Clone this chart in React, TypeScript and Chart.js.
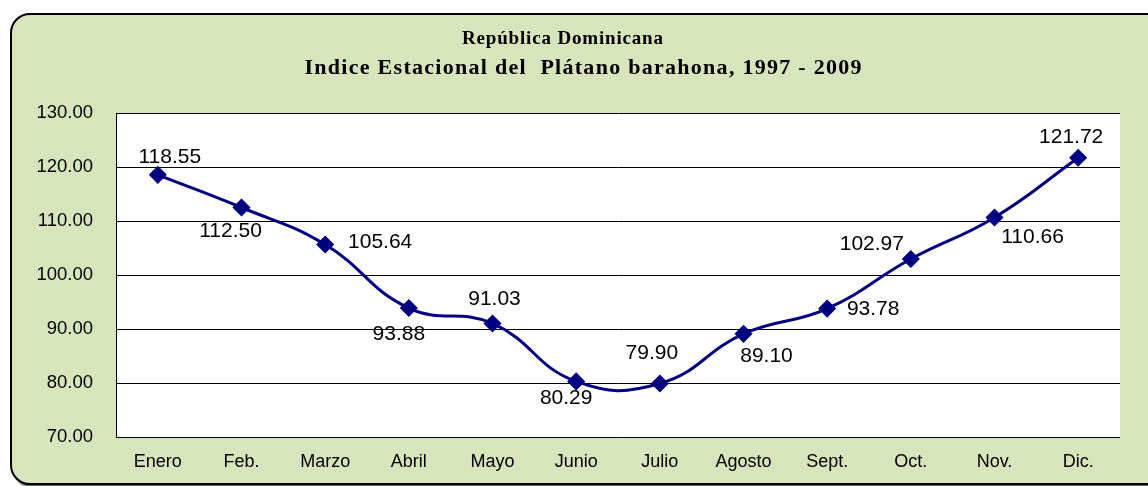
import React, { useEffect, useRef } from "react";
import { Chart, registerables } from "chart.js";

Chart.register(...registerables);

const categories = ["Enero", "Feb.", "Marzo", "Abril", "Mayo", "Junio", "Julio", "Agosto", "Sept.", "Oct.", "Nov.", "Dic."];
const values = [118.55, 112.5, 105.64, 93.88, 91.03, 80.29, 79.9, 89.1, 93.78, 102.97, 110.66, 121.72];
const yTicks = [70, 80, 90, 100, 110, 120, 130];
const titleLines = ["República Dominicana", "Indice Estacional del  Plátano barahona, 1997 - 2009"];

// label placement offsets (style, px) relative to each point
const labelOffsets: [number, number][] = [
  [12, -18], [-11, 24], [55, -2], [-10, 26], [2, -24], [-10, 17],
  [-8, -30], [23, 22], [46, 1], [-39, -15], [38, 20], [-7, -21],
];

const SANS = '"Liberation Sans", Arial, sans-serif';
const SERIF = '"Liberation Serif", "Times New Roman", serif';

const plotBg = {
  id: "plotBg",
  beforeDraw(chart: any) {
    const { ctx, chartArea } = chart;
    ctx.save();
    ctx.fillStyle = "#ffffff";
    ctx.fillRect(chartArea.left, chartArea.top, chartArea.right - chartArea.left, chartArea.bottom - chartArea.top);
    ctx.restore();
  },
};

const titlePlugin = {
  id: "titleLines",
  afterDraw(chart: any) {
    const { ctx } = chart;
    const specs = [
      { x: 562.5, y: 44, w: 201, size: 19 },
      { x: 583, y: 74, w: 557, size: 22 },
    ];
    ctx.save();
    ctx.fillStyle = "#000";
    ctx.textAlign = "center";
    ctx.textBaseline = "alphabetic";
    titleLines.forEach((t, i) => {
      const s = specs[i];
      ctx.font = `bold ${s.size}px ${SERIF}`;
      (ctx as any).letterSpacing = "0px";
      const m = ctx.measureText(t).width;
      const sp = Math.max(0, (s.w - m) / Math.max(1, t.length - 1));
      (ctx as any).letterSpacing = `${sp}px`;
      ctx.fillText(t, s.x + sp / 2, s.y);
    });
    (ctx as any).letterSpacing = "0px";
    ctx.restore();
  },
};

const labelPlugin = {
  id: "pointLabels",
  afterDatasetsDraw(chart: any) {
    const { ctx } = chart;
    const meta = chart.getDatasetMeta(0);
    ctx.save();
    ctx.fillStyle = "#000";
    ctx.font = `21px ${SANS}`;
    ctx.textAlign = "center";
    ctx.textBaseline = "middle";
    meta.data.forEach((pt: any, i: number) => {
      const [dx, dy] = labelOffsets[i];
      ctx.fillText(values[i].toFixed(2), pt.x + dx, pt.y + dy);
    });
    ctx.restore();
  },
};

export default function App() {
  const ref = useRef<HTMLCanvasElement>(null);
  useEffect(() => {
    document.body.style.margin = "0";
    const chart = new Chart(ref.current!, {
      type: "line",
      data: {
        labels: categories,
        datasets: [
          {
            data: values,
            borderColor: "#000080",
            backgroundColor: "#000080",
            borderWidth: 3,
            tension: 0.45,
            pointStyle: "rectRot",
            pointRadius: 8,
            pointBackgroundColor: "#000080",
            pointBorderColor: "#000080",
            pointBorderWidth: 1.5,
            clip: false as any,
          },
        ],
      },
      options: {
        animation: false,
        responsive: false,
        devicePixelRatio: 1,
        layout: { padding: { left: 36, top: 113, right: 28, bottom: 9 } },
        plugins: { legend: { display: false }, tooltip: { enabled: false }, title: { display: false } },
        scales: {
          x: {
            type: "category",
            offset: true,
            grid: { display: false, drawTicks: false },
            border: { display: false },
            ticks: { color: "#000", font: { family: SANS, size: 18 }, padding: 14, maxRotation: 0, autoSkip: false },
            afterFit: (s: any) => { s.height = 40; },
          },
          y: {
            min: 70,
            max: 130,
            afterBuildTicks: (s: any) => { s.ticks = yTicks.map((v) => ({ value: v })); },
            grid: { color: "#000", lineWidth: 1, drawTicks: false },
            border: { display: true, color: "#000", width: 1 },
            ticks: {
              color: "#000",
              font: { family: SANS, size: 18.5 },
              padding: 23,
              callback: (v: any) => Number(v).toFixed(2),
            },
            afterFit: (s: any) => { s.width = 80; },
          },
        },
      },
      plugins: [plotBg, titlePlugin, labelPlugin],
    });
    return () => chart.destroy();
  }, []);

  return (
    <div style={{ position: "relative", width: 1148, height: 486, overflow: "hidden" }}>
      <div
        style={{
          position: "absolute",
          left: 10,
          top: 13,
          width: 1160,
          height: 472,
          boxSizing: "border-box",
          border: "2px solid #000",
          borderRadius: 20,
          background: "#D8E4BC",
          boxShadow: "3px 3px 2px rgba(0,0,0,0.6)",
        }}
      />
      <canvas ref={ref} width={1148} height={486} style={{ position: "absolute", left: 0, top: 0 }} />
    </div>
  );
}
